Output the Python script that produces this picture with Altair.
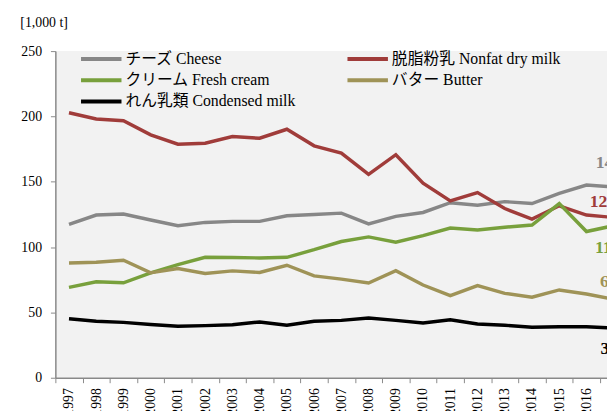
import altair as alt
import pandas as pd

years = [str(y) for y in range(1997, 2018)]
cheese = [117.4, 124.5, 125.3, 120.7, 116.4, 118.9, 119.7, 119.7, 124.0, 125.0, 126.0,
          117.7, 123.5, 126.5, 134.0, 132.0, 134.8, 133.3, 141.2, 147.5, 146.0]
nonfat = [202.8, 198.0, 196.7, 185.9, 178.8, 179.5, 184.6, 183.3, 190.2, 177.5, 172.0,
          155.6, 170.7, 149.0, 135.4, 141.7, 129.5, 121.5, 131.6, 124.5, 122.7]
cream = [69.2, 73.5, 72.7, 80.3, 86.6, 92.2, 92.0, 91.7, 92.2, 98.0, 104.3,
         107.8, 103.8, 108.8, 114.6, 113.1, 115.2, 116.9, 133.3, 111.9, 116.4]
butter = [87.9, 88.4, 89.9, 80.3, 83.6, 79.8, 81.8, 80.6, 86.1, 78.0, 75.5,
          72.5, 82.0, 71.0, 62.9, 70.5, 64.6, 61.6, 67.2, 64.1, 60.1]
condensed = [45.2, 43.2, 42.4, 40.7, 39.4, 39.9, 40.6, 42.7, 40.2, 43.2, 43.9,
             45.7, 43.9, 41.9, 44.4, 41.2, 40.2, 38.6, 39.1, 39.1, 38.1]

series = ["チーズ Cheese", "脱脂粉乳 Nonfat dry milk", "クリーム Fresh cream",
          "バター Butter", "れん乳類 Condensed milk"]
values = [cheese, nonfat, cream, butter, condensed]
colors = ["#878787", "#a03c3a", "#78a03c", "#9f9357", "#000000"]
label_dx = [-18.3, -24.3, -19, -14, -13.3]
label_dy = [-24, -16, 23, -17, 21]

SERIF = "'Liberation Serif', 'Noto Sans CJK JP'"

rows = []
for name, vals in zip(series, values):
    for yr, v in zip(years, vals):
        rows.append({"year": yr, "series": name, "value": v})
df = pd.DataFrame(rows)

xscale = alt.Scale(type="band", range=[0, 579.6], paddingInner=0, paddingOuter=0)
yscale = alt.Scale(domain=[0, 250])

x_axis = alt.Axis(title=None, labelAngle=-90, tickBand="extent", labelFont=SERIF,
                  labelFontSize=14, labelColor="#000000", labelPadding=5, tickSize=5,
                  domainColor="#898989", tickColor="#898989", domainWidth=1.5,
                  tickWidth=1, labelOverlap=False, labelBound=False)
y_axis = alt.Axis(values=[0, 50, 100, 150, 200, 250], title="[1,000 t]", titleAngle=0,
                  titleX=-36, titleY=-29, titleAlign="left", titleBaseline="middle",
                  titleFont=SERIF, titleFontSize=14, titleFontWeight="normal",
                  titleColor="#000000", labelFont=SERIF, labelFontSize=14,
                  labelColor="#000000", tickSize=5, labelPadding=9, grid=False,
                  domainColor="#898989", tickColor="#898989", domainWidth=1.5)

lines = alt.Chart(df).mark_line(strokeWidth=3.5).encode(
    x=alt.X("year:O", scale=xscale, axis=x_axis, bandPosition=0.5),
    y=alt.Y("value:Q", scale=yscale, axis=y_axis),
    color=alt.Color("series:N", scale=alt.Scale(domain=series, range=colors), sort=series,
                    legend=alt.Legend(title=None, orient="none", legendX=24, legendY=0,
                                      direction="horizontal", columns=2,
                                      columnPadding=50, rowPadding=5.5, clipHeight=16,
                                      symbolType="stroke", symbolSize=1681,
                                      symbolStrokeWidth=4, labelFont=SERIF,
                                      labelFontSize=16, labelColor="#000000",
                                      labelOffset=2, labelLimit=400)),
    order=alt.Order("year:O"),
)

layers = [lines]
for name, vals, col, dx, dy in zip(series, values, colors, label_dx, label_dy):
    ld = pd.DataFrame({"year": [years[-1]], "value": [vals[-1]]})
    t = alt.Chart(ld).mark_text(dx=dx, dy=dy, font="Liberation Serif", fontWeight="bold",
                                fontSize=18, color=col, align="left",
                                baseline="middle").encode(
        x=alt.X("year:O", scale=xscale, bandPosition=0.5),
        y=alt.Y("value:Q", scale=yscale),
        text=alt.Text("value:Q", format=".0f"),
    )
    layers.append(t)

chart = alt.layer(*layers).properties(
    width=559, height=331,
    autosize=alt.AutoSizeParams(type="none"),
    padding={"left": 48, "top": 41, "right": 0, "bottom": 31},
    background="#ffffff",
).configure_view(fill="#f2f2f2", strokeWidth=0)

chart.save("out.html", embed_options={"renderer": "svg", "actions": False})
